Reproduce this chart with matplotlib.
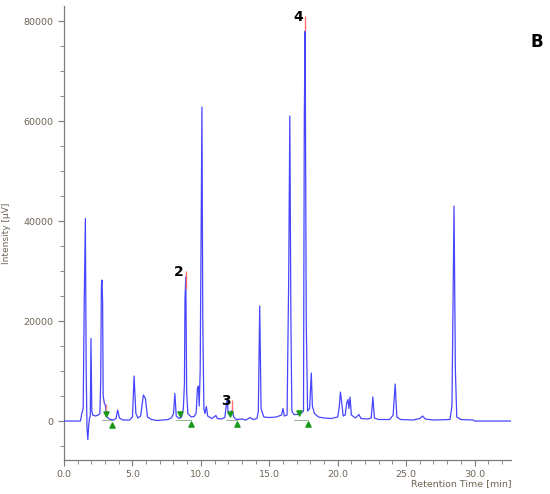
import matplotlib
matplotlib.use("Agg")
import matplotlib.pyplot as plt
from matplotlib.ticker import MultipleLocator

# chromatogram trace, vertices (min, uV)
time_min = [0.0, 1.20, 1.30, 1.40, 1.48, 1.56, 1.62, 1.68, 1.74, 1.80, 1.86, 1.92, 1.97, 2.03,
            2.10, 2.30, 2.50, 2.62, 2.68, 2.73, 2.77, 2.82, 2.86, 2.95, 3.02, 3.10, 3.30, 3.60,
            3.80, 3.92, 4.05, 4.30, 4.80, 5.00, 5.12, 5.25, 5.40, 5.60, 5.80, 5.95, 6.10, 6.40,
            6.80, 7.20, 7.60, 7.85, 8.00, 8.10, 8.20, 8.40, 8.60, 8.72, 8.80, 8.84, 8.90, 8.96,
            9.05, 9.30, 9.50, 9.65, 9.75, 9.82, 9.88, 9.95, 10.02, 10.08, 10.14, 10.22, 10.30,
            10.40, 10.50, 10.80, 11.10, 11.20, 11.50, 11.75, 11.85, 11.92, 12.00, 12.10, 12.20,
            12.30, 12.40, 12.60, 13.00, 13.30, 13.60, 13.80, 14.10, 14.20, 14.30, 14.40, 14.60,
            15.00, 15.50, 15.90, 16.00, 16.10, 16.30, 16.42, 16.50, 16.58, 16.65, 16.80, 17.00,
            17.30, 17.50, 17.56, 17.62, 17.70, 17.80, 17.95, 18.07, 18.15, 18.30, 18.60, 19.00,
            19.50, 20.00, 20.10, 20.20, 20.30, 20.40, 20.55, 20.65, 20.75, 20.82, 20.90, 21.00,
            21.30, 21.55, 21.70, 22.20, 22.45, 22.57, 22.68, 23.00, 23.80, 24.05, 24.20, 24.32,
            24.60, 25.50, 26.00, 26.20, 26.40, 27.00, 28.20, 28.35, 28.45, 28.50, 28.60, 28.70,
            29.00, 29.90, 30.00, 32.70]
intensity = [0, 0, 1500, 2500, 24500, 40500, 10000, -1500, -3700, -1000, 500, 1000, 16500, 2000,
             1200, 1000, 1200, 1500, 8000, 27000, 28200, 24000, 5000, 3500, 3200, 1000, 400, 200,
             500, 2200, 600, 200, 200, 800, 9000, 1500, 600, 1000, 5200, 4500, 800, 300,
             100, 200, 300, 600, 1500, 5500, 1000, 500, 800, 2500, 7500, 24500, 28800, 6000,
             1500, 800, 900, 1500, 6500, 7000, 3000, 10000, 38000, 62800, 20000, 2500, 1500,
             2900, 1000, 500, 1100, 500, 400, 700, 3000, 4500, 1500, 1200, 1800,
             2200, 800, 300, 400, 200, 700, 300, 500, 2000, 23000, 2500, 800,
             700, 800, 1200, 2500, 1000, 1200, 29000, 61000, 20000, 2000, 1300, 1300,
             1500, 2000, 61500, 78000, 20000, 2000, 2500, 9600, 3000, 1500, 800, 600,
             500, 800, 2500, 5800, 3500, 1000, 1200, 3500, 4300, 2500, 4800, 1200,
             600, 1300, 500, 400, 600, 4800, 600, 300, 300, 1200, 7400, 800,
             300, 200, 500, 1000, 400, 200, 300, 3000, 30000, 43000, 10000, 800,
             300, 200, 0, 0]

# integration marks (peak start / end)
start_t = [3.08, 8.50, 12.15, 17.14]
start_i = [1400, 1400, 1400, 1600]
end_t = [3.52, 9.28, 12.64, 17.85]
end_i = [-700, -500, -500, -600]

# labelled peaks and apex marks
peak_names = ["2", "3", "4"]
peak_t = [8.90, 12.30, 17.62]
peak_lo = [26500, 1600, 78000]
peak_hi = [30000, 4200, 81000]

fig = plt.figure(figsize=(5.5, 4.94), dpi=100)
ax = fig.add_axes([0.1164, 0.0688, 0.8136, 0.919])

ax.plot(time_min, intensity, color="#4646ff", lw=0.9, zorder=3)
ax.vlines(peak_t, peak_lo, peak_hi, color="#ff6f6f", lw=1.0, zorder=4)
ax.vlines([3.05], [1500], [3500], color="#ff8a8a", lw=1.0, zorder=4)
for s, e in zip(start_t, end_t):
    ax.plot([s - 0.3, e], [300, 300], color="#2f6f2f", lw=0.5, alpha=0.7, zorder=2)
ax.scatter(start_t, start_i, marker="v", s=14, color="#1a9a1a", zorder=5)
ax.scatter(end_t, end_i, marker="^", s=14, color="#1a9a1a", zorder=5)

for name, t, hi in zip(peak_names, peak_t, peak_hi):
    ax.text(t - 0.15, hi - 200, name, ha="right", va="center", fontsize=10,
            fontweight="bold", color="black", zorder=6)

ax.set_xlim(0, 32.7)
ax.set_ylim(-7800, 83000)
ax.xaxis.set_major_locator(MultipleLocator(5))
ax.xaxis.set_minor_locator(MultipleLocator(1))
ax.yaxis.set_major_locator(MultipleLocator(20000))
ax.yaxis.set_minor_locator(MultipleLocator(5000))
ax.xaxis.set_major_formatter(plt.FuncFormatter(lambda v, p: "%.1f" % v))

for side in ["top", "right"]:
    ax.spines[side].set_visible(False)
for side in ["left", "bottom"]:
    ax.spines[side].set_color("#7a7a7a")
    ax.spines[side].set_linewidth(0.9)
ax.tick_params(which="both", colors="#7a7a7a", labelcolor="#6e6454", labelsize=6.8)
ax.tick_params(which="major", length=4)
ax.tick_params(which="minor", length=3)

ax.set_ylabel("Intensity [µV]", fontsize=6.5, color="#6e6454", labelpad=9)
ax.text(1.0, -0.053, "Retention Time [min]", transform=ax.transAxes, ha="right",
        va="center", fontsize=6.8, color="#6e6454")
fig.text(0.976, 0.915, "B", fontsize=12, fontweight="bold", ha="center", va="center")

fig.savefig("out.png", dpi=100)
